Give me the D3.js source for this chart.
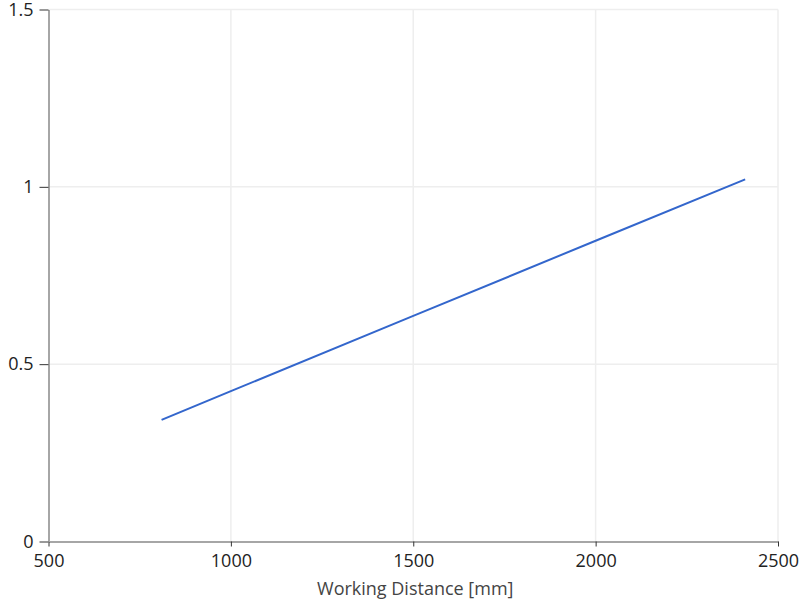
<!DOCTYPE html>
<html>
<head>
<meta charset="utf-8">
<script src="https://cdn.jsdelivr.net/npm/d3@7"></script>
<style>
  html, body { margin: 0; padding: 0; background: #fff; }
  svg { display: block; }
  text { font-family: "Open Sans", "Liberation Sans", Arial, sans-serif; }
</style>
</head>
<body>
<script>
// Data
const distances = [810, 1000, 1500, 2000, 2410];        // Working distance [mm]
const values    = [0.343, 0.424, 0.636, 0.848, 1.021];  // series values
const xTicks = [500, 1000, 1500, 2000, 2500];
const yTicks = [0, 0.5, 1, 1.5];
const xLabel = "Working Distance [mm]";

const W = 800, H = 602;
const margin = { top: 9.5, right: 22, bottom: 60.5, left: 48.5 };
const iw = W - margin.left - margin.right;
const ih = H - margin.top - margin.bottom;

const svg = d3.select("body").append("svg").attr("width", W).attr("height", H);
const g = svg.append("g").attr("transform", `translate(${margin.left},${margin.top})`);

const x = d3.scaleLinear().domain([500, 2500]).range([0, iw]);
const y = d3.scaleLinear().domain([0, 1.5]).range([ih, 0]);

// gridlines
g.append("g").selectAll("line").data(xTicks.slice(1)).join("line")
  .attr("x1", d => x(d)).attr("x2", d => x(d)).attr("y1", 0).attr("y2", ih)
  .attr("stroke", "#eeeeee").attr("stroke-width", 1.5);
g.append("g").selectAll("line").data(yTicks.slice(1)).join("line")
  .attr("x1", 0).attr("x2", iw).attr("y1", d => y(d)).attr("y2", d => y(d))
  .attr("stroke", "#eeeeee").attr("stroke-width", 1.5);

// axes
const xAxis = g.append("g").attr("transform", `translate(0,${ih})`)
  .call(d3.axisBottom(x).tickValues(xTicks).tickFormat(d3.format("d")).tickSize(5).tickPadding(8).tickSizeOuter(0));
const yAxis = g.append("g")
  .call(d3.axisLeft(y).tickValues(yTicks).tickFormat(d => String(d)).tickSize(9).tickPadding(6).tickSizeOuter(0));

[xAxis, yAxis].forEach(a => {
  a.select(".domain").attr("stroke", "#a6a6a6").attr("stroke-width", 2);
  a.selectAll(".tick line").attr("stroke", "#333");
  a.selectAll(".tick text").attr("fill", "#222").style("font-size", "18px")
    .style("font-family", '"Open Sans", "Liberation Sans", Arial, sans-serif');
});

// line
const line = d3.line().x((d, i) => x(distances[i])).y(d => y(d));
g.append("path").datum(values)
  .attr("fill", "none").attr("stroke", "#3366cc").attr("stroke-width", 2)
  .attr("d", line);

// axis label
svg.append("text")
  .attr("x", margin.left + iw / 2 + 2).attr("y", 595)
  .attr("text-anchor", "middle").attr("fill", "#444")
  .style("font-size", "18px")
  .text(xLabel);
</script>
</body>
</html>
